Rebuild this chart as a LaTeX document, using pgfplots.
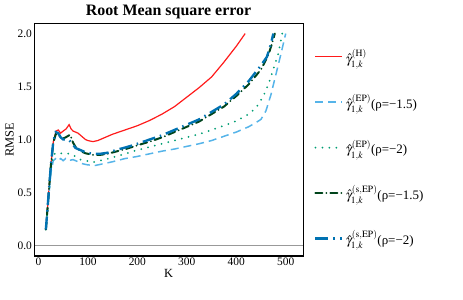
\documentclass[border=0pt]{standalone}
\usepackage{mathptmx}
\usepackage{fontspec}
\setmainfont{Liberation Serif}
\usepackage{pgfplots}
\pgfplotsset{compat=1.18}
\definecolor{cRed}{HTML}{FF1A1A}
\definecolor{cLBlue}{HTML}{56B4E9}
\definecolor{cGreen}{HTML}{009E73}
\definecolor{cDGreen}{HTML}{00441B}
\definecolor{cBlue}{HTML}{0072B2}
\begin{document}
\begin{tikzpicture}
\useasboundingbox (-34bp,-44bp) rectangle (429bp,256bp);
\begin{axis}[
  scale only axis, width=269bp, height=233bp,
  xmin=-9, xmax=535, ymin=-0.1, ymax=2.1,
  xtick={0,100,200,300,400,500}, ytick={0,0.5,1,1.5,2},
  yticklabel style={/pgf/number format/fixed,/pgf/number format/fixed zerofill,/pgf/number format/precision=1, xshift=1.5pt},
  /pgf/number format/assume math mode=true,
  major tick length=0pt,
  tick label style={font=\fontsize{11.5}{13}\selectfont},
  xticklabel style={yshift=1.5pt},
  axis line style={line width=0.6pt},
  title={Root Mean square error},
  title style={font=\fontsize{16}{18}\selectfont\bfseries, yshift=-5pt},
  xlabel={K}, ylabel={RMSE},
  label style={font=\fontsize{12.5}{14}\selectfont},
  xlabel style={yshift=3pt},
  ylabel style={yshift=-3pt},
  legend style={at={(1.03,0.465)}, anchor=west, draw=none, fill=none,
    font=\fontsize{13}{15}\selectfont, row sep=26pt},
  legend cell align=left,
  legend image code/.code={\draw plot coordinates {(0cm,0cm) (0.95cm,0cm)};},
]
\addplot[cRed, line width=1.2pt] coordinates {
(15,0.16) (20,0.45) (25,0.75) (30,0.98) (36,1.08) (40,1.09) (45,1.06) (50,1.08) (56,1.10) (62,1.14) (66,1.10) (70,1.08) (75,1.07) (80,1.06) (85,1.04) (90,1.02) (95,1.00) (100,0.99) (110,0.98) (120,0.99) (130,1.01) (150,1.05) (175,1.09) (200,1.13) (225,1.18) (250,1.24) (275,1.31) (300,1.40) (325,1.49) (350,1.59) (375,1.73) (400,1.88) (418,2.0)};
\addlegendentry{$\hat{\gamma}^{(\mathrm{H})}_{1,k}$}
\addplot[cLBlue, line width=1.5pt, dash pattern=on 8pt off 5pt] coordinates {
(15,0.15) (20,0.42) (25,0.68) (30,0.80) (35,0.82) (40,0.80) (45,0.82) (50,0.80) (55,0.82) (60,0.80) (70,0.81) (80,0.79) (90,0.77) (100,0.76) (115,0.755) (130,0.77) (150,0.79) (175,0.82) (200,0.84) (225,0.865) (250,0.89) (275,0.91) (300,0.935) (325,0.96) (350,0.99) (375,1.03) (400,1.07) (425,1.12) (440,1.16) (450,1.19) (460,1.27) (470,1.42) (480,1.61) (490,1.80) (500,2.0)};
\addlegendentry{$\hat{\gamma}^{(\mathrm{EP})}_{1,k}$(ρ=−1.5)}
\addplot[cGreen, line width=2pt, line cap=round, dash pattern=on 0pt off 7pt] coordinates {
(15,0.15) (20,0.42) (25,0.70) (30,0.85) (35,0.875) (45,0.87) (55,0.87) (65,0.865) (75,0.84) (85,0.81) (95,0.80) (110,0.785) (125,0.80) (150,0.83) (175,0.865) (200,0.90) (225,0.93) (250,0.96) (275,0.99) (300,1.02) (325,1.05) (350,1.09) (375,1.13) (400,1.175) (425,1.24) (440,1.30) (455,1.41) (465,1.52) (475,1.66) (485,1.81) (493,2.0)};
\addlegendentry{$\hat{\gamma}^{(\mathrm{EP})}_{1,k}$(ρ=−2)}
\addplot[cDGreen, line width=2pt, line cap=round, dash pattern=on 7pt off 4pt on 0pt off 4pt] coordinates {
(15,0.15) (20,0.45) (25,0.75) (30,0.97) (35,1.05) (40,1.04) (45,1.02) (50,1.01) (55,1.02) (64,1.045) (70,0.97) (75,0.93) (85,0.89) (95,0.87) (110,0.855) (125,0.855) (140,0.865) (160,0.89) (180,0.915) (200,0.945) (225,0.98) (250,1.02) (275,1.07) (300,1.12) (325,1.17) (350,1.24) (375,1.31) (400,1.41) (425,1.52) (450,1.66) (465,1.80) (472,1.90) (478,2.0)};
\addlegendentry{$\hat{\gamma}^{(\mathrm{s,EP})}_{1,k}$(ρ=−1.5)}
\addplot[cBlue, line width=2.4pt, dash pattern=on 13pt off 5pt on 1.5pt off 5pt] coordinates {
(15,0.15) (20,0.45) (25,0.75) (30,0.98) (35,1.07) (40,1.06) (45,1.02) (50,1.00) (55,1.00) (60,1.00) (65,0.98) (70,0.95) (75,0.92) (85,0.90) (95,0.88) (110,0.865) (125,0.865) (140,0.875) (160,0.905) (180,0.93) (200,0.96) (225,1.00) (250,1.04) (275,1.09) (300,1.14) (325,1.19) (350,1.26) (375,1.33) (400,1.43) (425,1.55) (450,1.70) (462,1.78) (470,1.90) (475,2.0)};
\addlegendentry{$\hat{\gamma}^{(\mathrm{s,EP})}_{1,k}$(ρ=−2)}
\draw[color=black!40, line width=0.8pt] (axis cs:-9,0) -- (axis cs:535,0);
\draw[line width=1.5pt] (rel axis cs:0,1) -- (rel axis cs:0,0) -- (rel axis cs:1,0);
\end{axis}
\end{tikzpicture}
\end{document}
